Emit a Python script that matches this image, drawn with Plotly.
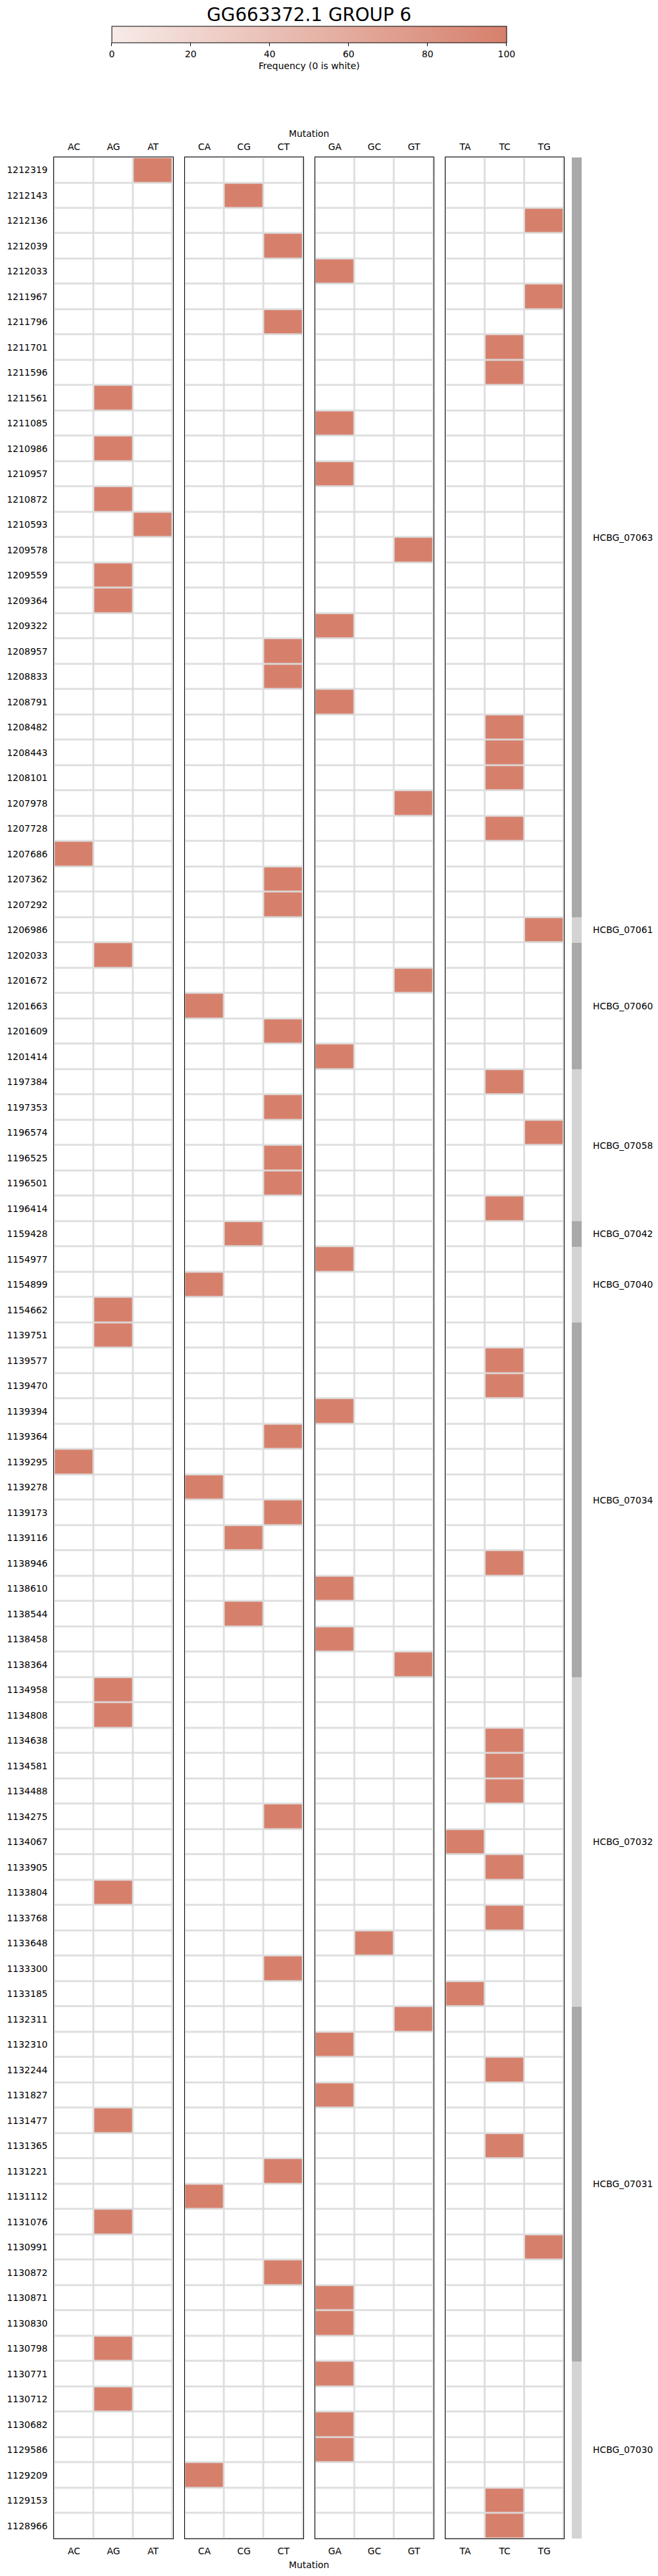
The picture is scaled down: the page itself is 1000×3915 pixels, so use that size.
import plotly.graph_objects as go

# ---------------- data ----------------
positions = [
    1212319, 1212143, 1212136, 1212039, 1212033, 1211967, 1211796, 1211701, 1211596, 1211561,
    1211085, 1210986, 1210957, 1210872, 1210593, 1209578, 1209559, 1209364, 1209322, 1208957,
    1208833, 1208791, 1208482, 1208443, 1208101, 1207978, 1207728, 1207686, 1207362, 1207292,
    1206986, 1202033, 1201672, 1201663, 1201609, 1201414, 1197384, 1197353, 1196574, 1196525,
    1196501, 1196414, 1159428, 1154977, 1154899, 1154662, 1139751, 1139577, 1139470, 1139394,
    1139364, 1139295, 1139278, 1139173, 1139116, 1138946, 1138610, 1138544, 1138458, 1138364,
    1134958, 1134808, 1134638, 1134581, 1134488, 1134275, 1134067, 1133905, 1133804, 1133768,
    1133648, 1133300, 1133185, 1132311, 1132310, 1132244, 1131827, 1131477, 1131365, 1131221,
    1131112, 1131076, 1130991, 1130872, 1130871, 1130830, 1130798, 1130771, 1130712, 1130682,
    1129586, 1129209, 1129153, 1128966,
]

mutations = [
    "AT", "CG", "TG", "CT", "GA", "TG", "CT", "TC", "TC", "AG",
    "GA", "AG", "GA", "AG", "AT", "GT", "AG", "AG", "GA", "CT",
    "CT", "GA", "TC", "TC", "TC", "GT", "TC", "AC", "CT", "CT",
    "TG", "AG", "GT", "CA", "CT", "GA", "TC", "CT", "TG", "CT",
    "CT", "TC", "CG", "GA", "CA", "AG", "AG", "TC", "TC", "GA",
    "CT", "AC", "CA", "CT", "CG", "TC", "GA", "CG", "GA", "GT",
    "AG", "AG", "TC", "TC", "TC", "CT", "TA", "TC", "AG", "TC",
    "GC", "CT", "TA", "GT", "GA", "TC", "GA", "AG", "TC", "CT",
    "CA", "AG", "TG", "CT", "GA", "GA", "AG", "GA", "AG", "GA",
    "GA", "CA", "TC", "TC",
]

frequencies = [
    100, 100, 100, 100, 100, 100, 100, 100, 100, 100,
    100, 100, 100, 100, 100, 100, 100, 100, 100, 100,
    100, 100, 100, 100, 100, 100, 100, 100, 100, 100,
    100, 100, 100, 100, 100, 100, 100, 100, 100, 100,
    100, 100, 100, 100, 100, 100, 100, 100, 100, 100,
    100, 100, 100, 100, 100, 100, 100, 100, 100, 100,
    100, 100, 100, 100, 100, 100, 100, 100, 100, 100,
    100, 100, 100, 100, 100, 100, 100, 100, 100, 100,
    100, 100, 100, 100, 100, 100, 100, 100, 100, 100,
    100, 100, 100, 100,
]

gene_names = ["HCBG_07063", "HCBG_07061", "HCBG_07060", "HCBG_07058", "HCBG_07042",
              "HCBG_07040", "HCBG_07034", "HCBG_07032", "HCBG_07031", "HCBG_07030"]
gene_row_counts = [30, 1, 5, 6, 1, 3, 14, 13, 14, 7]

panel_columns = [["AC", "AG", "AT"], ["CA", "CG", "CT"], ["GA", "GC", "GT"], ["TA", "TC", "TG"]]

colorbar_ticks = [0, 20, 40, 60, 80, 100]

# ---------------- layout geometry (pixels) ----------------
W, H = 1000, 3915
top_px, bottom_px = 239.3, 3858.0
panel_left_px = [82.3, 280.5, 478.7, 676.9]
panel_w_px = 180.4
genebar_px = (869.0, 884.0)
center_x = (panel_left_px[0] + panel_left_px[-1] + panel_w_px) / 2 / W

def py(p):
    return 1 - p / H

ydom = [py(bottom_px), py(top_px)]
ycats = [str(p) for p in positions]

cell_color = "#d6806c"
colorscale = [[0.0, "#ffffff"], [0.0001, "#f7ebe8"], [1.0, cell_color]]
grid_color = "#dcdcdc"
FONT = "DejaVu Sans"
fs = 13.9

fig = go.Figure()

for k, cols in enumerate(panel_columns):
    z = []
    for m, f in zip(mutations, frequencies):
        z.append([f if m == c else 0 for c in cols])
    xa = "x" if k == 0 else f"x{k+1}"
    trace_kwargs = dict(
        z=z, x=cols, y=ycats, xaxis=xa, yaxis="y",
        colorscale=colorscale, zmin=0, zmax=100,
        xgap=2.7, ygap=2.7, hoverinfo="skip",
        showscale=(k == 0),
    )
    if k == 0:
        trace_kwargs["colorbar"] = dict(
            orientation="h", x=center_x, xanchor="center",
            y=py(40.3), yanchor="top", len=600 / W, lenmode="fraction",
            thickness=24.7, thicknessmode="pixels",
            outlinewidth=1, outlinecolor="black",
            ticks="outside", ticklen=5, tickcolor="black", tickwidth=1,
            tickvals=colorbar_ticks, tickfont=dict(size=fs, color="black", family=FONT),
            title=dict(text="Frequency (0 is white)", side="bottom",
                       font=dict(size=fs, color="black", family=FONT)),
            xpad=0, ypad=0, bgcolor="rgba(0,0,0,0)",
        )
    fig.add_trace(go.Heatmap(**trace_kwargs))
    # empty trace to realise the top tick axis
    fig.add_trace(go.Scatter(x=[], y=[], xaxis=f"x{k+6}", yaxis="y",
                             showlegend=False, hoverinfo="skip"))

# gene bar
gene_z = []
gene_mid = []
start = 0
for gi, n in enumerate(gene_row_counts):
    for _ in range(n):
        gene_z.append([gi % 2])
    gene_mid.append(start + (n - 1) / 2)
    start += n

fig.add_trace(go.Heatmap(
    z=gene_z, x=["gene"], y=ycats, xaxis="x5", yaxis="y2",
    colorscale=[[0, "#a9a9a9"], [1, "#d3d3d3"]], zmin=0, zmax=1,
    showscale=False, hoverinfo="skip",
))

layout = dict(
    width=W, height=H,
    margin=dict(l=0, r=0, t=0, b=0),
    paper_bgcolor="white",
    plot_bgcolor=grid_color,
    font=dict(family=FONT, size=fs, color="black"),
    showlegend=False,
    title=dict(text="GG663372.1 GROUP 6", x=center_x, xanchor="center",
               y=py(22), yanchor="middle", xref="paper", yref="paper",
               font=dict(size=27.8, family=FONT, color="black")),
)

layout["yaxis"] = dict(
    type="category", categoryorder="array", categoryarray=ycats,
    autorange="reversed", domain=ydom, anchor="x",
    showline=True, mirror="all", linecolor="black", linewidth=1.2,
    ticks="outside", ticklen=6, tickcolor="rgba(0,0,0,0)",
    showgrid=False, zeroline=False, tickfont=dict(size=fs),
)
layout["yaxis2"] = dict(
    type="category", categoryorder="array", categoryarray=ycats,
    autorange="reversed", domain=ydom, anchor="x5", visible=False,
)

for k, cols in enumerate(panel_columns):
    dom = [panel_left_px[k] / W, (panel_left_px[k] + panel_w_px) / W]
    name = "xaxis" if k == 0 else f"xaxis{k+1}"
    layout[name] = dict(
        type="category", categoryorder="array", categoryarray=cols,
        range=[-0.5, 2.5], domain=dom, anchor="y", side="bottom",
        showline=True, mirror=True, linecolor="black", linewidth=1.2,
        ticks="outside", ticklen=6, tickcolor="rgba(0,0,0,0)",
        showgrid=False, zeroline=False, tickfont=dict(size=fs),
    )
    layout[f"xaxis{k+6}"] = dict(
        type="linear", range=[-0.5, 2.5], domain=dom,
        overlaying="x" if k == 0 else f"x{k+1}", anchor="y", side="top",
        tickmode="array", tickvals=[0, 1, 2], ticktext=cols,
        ticks="outside", ticklen=5, tickcolor="rgba(0,0,0,0)",
        showgrid=False, zeroline=False, showline=False, tickfont=dict(size=fs),
    )

layout["xaxis5"] = dict(domain=[genebar_px[0] / W, genebar_px[1] / W],
                        anchor="y2", visible=False)

annotations = [
    dict(text="Mutation", xref="paper", yref="paper", x=center_x, y=py(203),
         xanchor="center", yanchor="middle", showarrow=False, font=dict(size=fs)),
    dict(text="Mutation", xref="paper", yref="paper", x=center_x, y=py(3898),
         xanchor="center", yanchor="middle", showarrow=False, font=dict(size=fs)),
]
for name, mid in zip(gene_names, gene_mid):
    annotations.append(dict(text=name, xref="paper", yref="y2", x=899 / W, y=mid,
                            xanchor="left", yanchor="middle", showarrow=False,
                            font=dict(size=fs)))
layout["annotations"] = annotations

fig.update_layout(**layout)
fig.write_html(
    "out.html",
    config={"displayModeBar": False},
    post_script="document.body.style.margin='0px';document.body.style.overflow='hidden';",
)
